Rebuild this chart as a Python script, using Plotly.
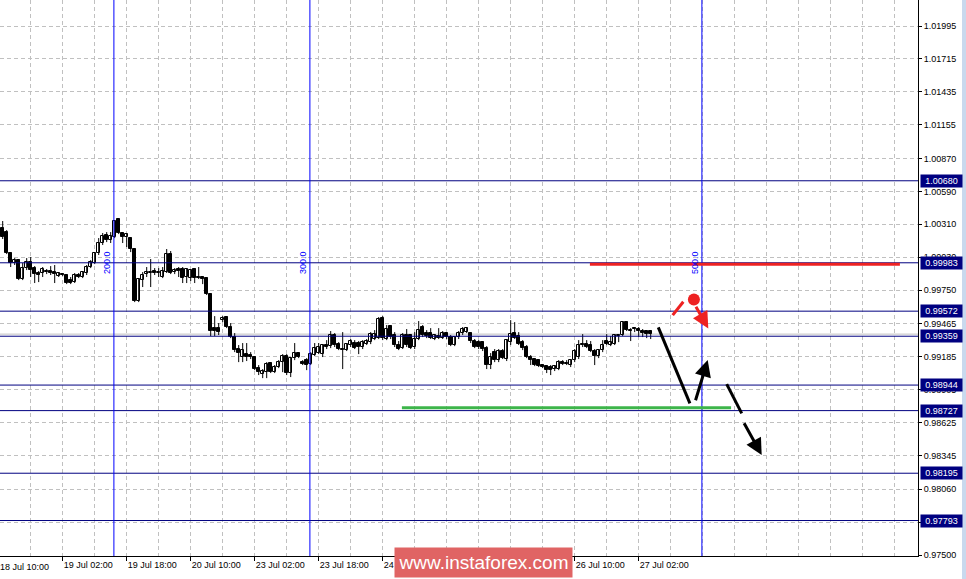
import plotly.graph_objects as go

# ---------------- candle data (H1 bars, index 1..163) ----------------
bar_open = [
    1.00278, 1.00244, 1.00066, 0.99981, 1.00006, 0.99845, 0.99938, 0.99989, 0.99938, 0.99896,
    0.99896, 0.99913, 0.99913, 0.99904, 0.99870, 0.99887, 0.99879, 0.99836, 0.99819, 0.99879,
    0.99862, 0.99896, 0.99947, 0.99981, 1.00066, 1.00151, 1.00219, 1.00176, 1.00202, 1.00355,
    1.00236, 1.00202, 1.00193, 1.00100, 0.99658, 0.99836, 0.99887, 0.99896, 0.99913, 0.99896,
    0.99862, 0.99904, 1.00057, 0.99904, 0.99930, 0.99930, 0.99862, 0.99853, 0.99930, 0.99862,
    0.99862, 0.99853, 0.99717, 0.99428, 0.99428, 0.99496, 0.99522, 0.99437, 0.99352, 0.99250,
    0.99182, 0.99207, 0.99199, 0.99182, 0.99088, 0.99037, 0.99054, 0.99131, 0.99054, 0.99097,
    0.99139, 0.99190, 0.99046, 0.99173, 0.99216, 0.99139, 0.99156, 0.99122, 0.99199, 0.99216,
    0.99207, 0.99284, 0.99275, 0.99369, 0.99292, 0.99250, 0.99241, 0.99284, 0.99301, 0.99301,
    0.99267, 0.99292, 0.99309, 0.99335, 0.99343, 0.99513, 0.99335, 0.99445, 0.99369, 0.99284,
    0.99258, 0.99369, 0.99369, 0.99267, 0.99335, 0.99437, 0.99386, 0.99386, 0.99335, 0.99360,
    0.99343, 0.99386, 0.99352, 0.99284, 0.99352, 0.99386, 0.99394, 0.99386, 0.99318, 0.99309,
    0.99309, 0.99258, 0.99114, 0.99224, 0.99156, 0.99233, 0.99165, 0.99309, 0.99386, 0.99360,
    0.99309, 0.99267, 0.99182, 0.99165, 0.99156, 0.99114, 0.99105, 0.99097, 0.99080, 0.99080,
    0.99139, 0.99131, 0.99114, 0.99156, 0.99182, 0.99292, 0.99292, 0.99284, 0.99233, 0.99190,
    0.99241, 0.99318, 0.99284, 0.99292, 0.99360, 0.99369, 0.99479, 0.99411, 0.99428, 0.99420,
    0.99403, 0.99403, 0.99403,
]
bar_high = [
    1.00338, 1.00261, 1.00074, 1.00023, 1.00015, 0.99981, 1.00023, 1.00032, 0.99955, 0.99913,
    0.99947, 0.99930, 0.99955, 0.99964, 0.99904, 0.99896, 0.99887, 0.99862, 0.99896, 0.99896,
    0.99913, 0.99964, 1.00006, 1.00074, 1.00193, 1.00236, 1.00244, 1.00244, 1.00346, 1.00363,
    1.00244, 1.00236, 1.00202, 1.00108, 0.99853, 0.99904, 0.99947, 1.00015, 0.99938, 0.99938,
    0.99947, 1.00100, 1.00083, 0.99938, 0.99947, 0.99947, 0.99938, 0.99930, 0.99938, 0.99947,
    0.99870, 0.99862, 0.99726, 0.99530, 0.99471, 0.99530, 0.99530, 0.99471, 0.99386, 0.99284,
    0.99301, 0.99301, 0.99224, 0.99190, 0.99114, 0.99080, 0.99139, 0.99139, 0.99114, 0.99156,
    0.99207, 0.99207, 0.99182, 0.99301, 0.99224, 0.99156, 0.99173, 0.99224, 0.99301, 0.99301,
    0.99292, 0.99326, 0.99403, 0.99386, 0.99309, 0.99394, 0.99301, 0.99335, 0.99326, 0.99318,
    0.99326, 0.99335, 0.99394, 0.99411, 0.99522, 0.99530, 0.99454, 0.99454, 0.99394, 0.99318,
    0.99386, 0.99420, 0.99377, 0.99394, 0.99488, 0.99454, 0.99411, 0.99428, 0.99377, 0.99428,
    0.99403, 0.99394, 0.99369, 0.99360, 0.99403, 0.99437, 0.99437, 0.99394, 0.99335, 0.99326,
    0.99318, 0.99275, 0.99216, 0.99250, 0.99250, 0.99250, 0.99335, 0.99496, 0.99479, 0.99394,
    0.99326, 0.99284, 0.99199, 0.99173, 0.99165, 0.99122, 0.99114, 0.99114, 0.99114, 0.99156,
    0.99156, 0.99156, 0.99165, 0.99250, 0.99326, 0.99377, 0.99326, 0.99318, 0.99250, 0.99250,
    0.99326, 0.99377, 0.99360, 0.99369, 0.99377, 0.99488, 0.99488, 0.99428, 0.99437, 0.99437,
    0.99420, 0.99411, 0.99411,
]
bar_low = [
    1.00185, 1.00057, 0.99947, 0.99964, 0.99836, 0.99836, 0.99921, 0.99862, 0.99811, 0.99819,
    0.99862, 0.99887, 0.99879, 0.99811, 0.99862, 0.99870, 0.99802, 0.99802, 0.99811, 0.99853,
    0.99853, 0.99879, 0.99938, 0.99972, 1.00049, 1.00134, 1.00159, 1.00151, 1.00193, 1.00227,
    1.00151, 1.00117, 1.00074, 0.99649, 0.99649, 0.99777, 0.99862, 0.99777, 0.99879, 0.99862,
    0.99853, 0.99896, 0.99887, 0.99887, 0.99862, 0.99811, 0.99811, 0.99828, 0.99811, 0.99845,
    0.99802, 0.99709, 0.99360, 0.99360, 0.99369, 0.99479, 0.99428, 0.99343, 0.99224, 0.99139,
    0.99139, 0.99148, 0.99165, 0.99071, 0.99029, 0.99003, 0.99003, 0.99046, 0.99046, 0.99088,
    0.99054, 0.99029, 0.99012, 0.99156, 0.99173, 0.99114, 0.99071, 0.99114, 0.99190, 0.99207,
    0.99182, 0.99250, 0.99258, 0.99267, 0.99241, 0.99080, 0.99233, 0.99267, 0.99250, 0.99207,
    0.99250, 0.99284, 0.99292, 0.99326, 0.99335, 0.99326, 0.99326, 0.99335, 0.99267, 0.99241,
    0.99250, 0.99267, 0.99250, 0.99250, 0.99326, 0.99352, 0.99343, 0.99335, 0.99326, 0.99335,
    0.99335, 0.99335, 0.99275, 0.99275, 0.99335, 0.99369, 0.99386, 0.99301, 0.99258, 0.99250,
    0.99233, 0.99080, 0.99080, 0.99139, 0.99139, 0.99165, 0.99148, 0.99284, 0.99335, 0.99284,
    0.99241, 0.99173, 0.99114, 0.99105, 0.99097, 0.99088, 0.99046, 0.99029, 0.99063, 0.99071,
    0.99114, 0.99114, 0.99097, 0.99139, 0.99165, 0.99267, 0.99258, 0.99224, 0.99114, 0.99173,
    0.99224, 0.99284, 0.99275, 0.99284, 0.99309, 0.99360, 0.99403, 0.99318, 0.99394, 0.99352,
    0.99352, 0.99343, 0.99335,
]
bar_close = [
    1.00202, 1.00066, 0.99981, 1.00006, 0.99845, 0.99938, 0.99989, 0.99921, 0.99887, 0.99879,
    0.99930, 0.99904, 0.99896, 0.99887, 0.99896, 0.99879, 0.99811, 0.99811, 0.99879, 0.99862,
    0.99904, 0.99947, 0.99989, 1.00066, 1.00151, 1.00210, 1.00176, 1.00210, 1.00338, 1.00236,
    1.00202, 1.00227, 1.00100, 0.99658, 0.99845, 0.99879, 0.99904, 0.99904, 0.99896, 0.99904,
    0.99913, 1.00057, 0.99896, 0.99921, 0.99913, 0.99853, 0.99930, 0.99921, 0.99853, 0.99853,
    0.99845, 0.99717, 0.99403, 0.99403, 0.99394, 0.99513, 0.99437, 0.99352, 0.99241, 0.99216,
    0.99241, 0.99182, 0.99182, 0.99080, 0.99054, 0.99063, 0.99122, 0.99054, 0.99097, 0.99139,
    0.99190, 0.99046, 0.99173, 0.99216, 0.99182, 0.99122, 0.99114, 0.99207, 0.99258, 0.99267,
    0.99284, 0.99267, 0.99369, 0.99284, 0.99250, 0.99241, 0.99292, 0.99318, 0.99258, 0.99267,
    0.99309, 0.99318, 0.99377, 0.99377, 0.99505, 0.99343, 0.99420, 0.99352, 0.99284, 0.99250,
    0.99369, 0.99284, 0.99258, 0.99335, 0.99411, 0.99369, 0.99360, 0.99343, 0.99369, 0.99343,
    0.99386, 0.99352, 0.99284, 0.99352, 0.99386, 0.99420, 0.99428, 0.99318, 0.99267, 0.99267,
    0.99250, 0.99114, 0.99182, 0.99156, 0.99233, 0.99173, 0.99326, 0.99377, 0.99343, 0.99292,
    0.99258, 0.99182, 0.99156, 0.99114, 0.99105, 0.99097, 0.99071, 0.99071, 0.99105, 0.99139,
    0.99122, 0.99122, 0.99156, 0.99233, 0.99284, 0.99284, 0.99267, 0.99233, 0.99190, 0.99241,
    0.99284, 0.99290, 0.99309, 0.99369, 0.99369, 0.99479, 0.99411, 0.99405, 0.99420, 0.99403,
    0.99386, 0.99377, 0.99377,
]
bar_index = list(range(1, len(bar_open) + 1))

# ---------------- axis labels ----------------
# labels at bars 112 and 128 (25 Jul) sit entirely under the watermark in the reference
time_label_bars = [0, 16, 32, 48, 64, 80, 96, 112, 128, 144, 160]
time_labels = ["18 Jul 10:00", "19 Jul 02:00", "19 Jul 18:00", "20 Jul 10:00",
               "23 Jul 02:00", "23 Jul 18:00", "24 Jul 10:00", "",
               "", "26 Jul 10:00", "27 Jul 02:00"]
time_grid_bars = [8, 24, 40, 56, 72, 88, 104, 120, 136, 152, 168, 176, 184, 192, 200, 208, 216, 224]
price_ticks = [1.01995, 1.01715, 1.01435, 1.01155, 1.00870, 1.00590, 1.00310, 1.00030,
               0.99750, 0.99465, 0.99185, 0.98905, 0.98625, 0.98345, 0.98060, 0.97780, 0.97500]

# ---------------- analysis drawings ----------------
level_prices = [1.00680, 0.99983, 0.99572, 0.99359, 0.98944, 0.98727, 0.98195, 0.97793]
vline_bars = [28.8, 77.8, 175.8]
vline_texts = ["200.0", "300.0", "500.0"]
resistance_price = 0.99970
resistance_bars = [147.8, 225.3]
support_price = 0.98751
support_bars = [100.8, 183.1]
leg_bars, leg_prices = [164.9, 172.8], [0.99434, 0.98788]
rebound_bars, rebound_prices = [174.1, 177.25], [0.98802, 0.99156]
dash1_bars, dash1_prices = [182.0, 185.75], [0.98952, 0.98703]
dash2_bars, dash2_prices = [186.15, 190.75], [0.98632, 0.98349]
red_tick_bars, red_tick_prices = [168.5, 171.15], [0.99538, 0.99652]
red_dot_bar, red_dot_price = 173.8, 0.99672
red_arrow_bars, red_arrow_prices = [174.1, 177.4], [0.99623, 0.99425]

NAVY = "#000080"
GRID = "#C0C0C0"
FONT = "Liberation Sans, Arial, sans-serif"

fig = go.Figure()

# wicks
wick_x, wick_y = [], []
for i, h, l in zip(bar_index, bar_high, bar_low):
    wick_x += [i, i, None]
    wick_y += [l, h, None]
fig.add_trace(go.Scatter(x=wick_x, y=wick_y, mode="lines", line=dict(color="black", width=1),
                         showlegend=False, hoverinfo="skip"))

# bodies
min_body = 0.00003
for bullish, fill in [(True, "white"), (False, "black")]:
    xs, bases, heights = [], [], []
    for i, o, c in zip(bar_index, bar_open, bar_close):
        if (c >= o) == bullish:
            xs.append(i)
            bases.append(min(o, c))
            heights.append(max(abs(c - o), min_body))
    fig.add_trace(go.Bar(x=xs, y=heights, base=bases, width=0.62,
                         marker=dict(color=fill, line=dict(color="black", width=1)),
                         showlegend=False, hoverinfo="skip"))

shapes = []
for p in level_prices:
    shapes.append(dict(type="line", xref="paper", x0=0, x1=1, yref="y", y0=p, y1=p,
                       line=dict(color=NAVY, width=1)))
shapes.append(dict(type="line", xref="paper", x0=0, x1=1, yref="y",
                   y0=bar_close[-1], y1=bar_close[-1], line=dict(color=GRID, width=1), layer="below"))
for b in vline_bars:
    shapes.append(dict(type="line", xref="x", x0=b, x1=b, yref="paper", y0=0, y1=1,
                       line=dict(color="#0000FF", width=1)))
shapes.append(dict(type="line", xref="x", x0=resistance_bars[0], x1=resistance_bars[1], yref="y",
                   y0=resistance_price, y1=resistance_price, line=dict(color="#EE2222", width=3)))
shapes.append(dict(type="line", xref="x", x0=support_bars[0], x1=support_bars[1], yref="y",
                   y0=support_price, y1=support_price, line=dict(color="#3DB54A", width=3)))
shapes.append(dict(type="line", xref="x", x0=leg_bars[0], x1=leg_bars[1], yref="y",
                   y0=leg_prices[0], y1=leg_prices[1], line=dict(color="black", width=3)))
shapes.append(dict(type="line", xref="x", x0=dash1_bars[0], x1=dash1_bars[1], yref="y",
                   y0=dash1_prices[0], y1=dash1_prices[1], line=dict(color="black", width=3)))
shapes.append(dict(type="line", xref="x", x0=red_tick_bars[0], x1=red_tick_bars[1], yref="y",
                   y0=red_tick_prices[0], y1=red_tick_prices[1], line=dict(color="#EE2222", width=3)))
shapes.append(dict(type="rect", xref="paper", x0=962 / 918, x1=967 / 918, yref="paper",
                   y0=-23 / 556, y1=1.0, fillcolor="#C9D9EE", line=dict(width=0)))

fig.add_trace(go.Scatter(x=[red_dot_bar], y=[red_dot_price], mode="markers",
                         marker=dict(color="#EE2222", size=12), showlegend=False, hoverinfo="skip"))

annotations = []
for bars, prices, col in [(rebound_bars, rebound_prices, "black"),
                          (dash2_bars, dash2_prices, "black"),
                          (red_arrow_bars, red_arrow_prices, "#EE2222")]:
    annotations.append(dict(x=bars[1], y=prices[1], ax=bars[0], ay=prices[0], xref="x", yref="y",
                            axref="x", ayref="y", text="", showarrow=True, arrowhead=2,
                            arrowsize=1.1, arrowwidth=3, arrowcolor=col, standoff=0))
for p in level_prices:
    annotations.append(dict(xref="paper", x=1, xanchor="left", xshift=2, yref="y", y=p,
                            yanchor="middle", text=f"{p:.5f}", showarrow=False, bgcolor=NAVY,
                            font=dict(color="white", size=9, family=FONT),
                            width=41, height=12, borderpad=0))
for b, t in zip(vline_bars, vline_texts):
    annotations.append(dict(xref="x", x=b, xshift=-7, xanchor="center", yref="paper",
                            y=(556 - 262) / 556, yanchor="middle",
                            text=t, textangle=-90, showarrow=False,
                            font=dict(color="#0000FF", size=9, family=FONT)))
annotations.append(dict(xref="paper", x=0, xanchor="left", xshift=-2, yref="paper", y=0,
                        yanchor="top", yshift=-4, text=time_labels[0], showarrow=False,
                        font=dict(color="black", size=9, family=FONT)))
annotations.append(dict(xref="paper", x=483.5 / 918, xanchor="center", yref="paper",
                        y=(556 - 562.5) / 556, yanchor="middle",
                        text="www.instaforex.com", showarrow=False, bgcolor="#E06464",
                        font=dict(color="white", size=19, family=FONT),
                        width=177, height=29, borderpad=0))

fig.update_layout(
    width=966, height=579,
    margin=dict(l=0, r=48, t=0, b=23, autoexpand=False),
    paper_bgcolor="white", plot_bgcolor="white",
    barmode="overlay", bargap=0,
    shapes=shapes, annotations=annotations, showlegend=False,
    font=dict(family=FONT, size=9, color="black"),
    xaxis=dict(
        range=[0.325, 229.825],
        tickvals=time_label_bars, ticktext=time_labels,
        ticks="outside", ticklen=4, tickcolor="black", ticklabelposition="outside right",
        showgrid=True, gridcolor=GRID, griddash="4px,3px", gridwidth=1,
        minor=dict(tickvals=time_grid_bars, showgrid=True, gridcolor=GRID,
                   griddash="4px,3px", ticks=""),
        showline=True, linecolor="black", linewidth=1, zeroline=False,
        tickfont=dict(size=9, color="black", family=FONT),
    ),
    yaxis=dict(
        range=[0.974916, 1.02216], side="right",
        tickvals=price_ticks, ticktext=[f"{v:.5f}" for v in price_ticks],
        ticks="outside", ticklen=3, tickcolor="black",
        showgrid=True, gridcolor=GRID, griddash="4px,3px", gridwidth=1,
        showline=True, linecolor="black", linewidth=1, zeroline=False,
        tickfont=dict(size=9, color="black", family=FONT),
    ),
)

fig.write_html("out.html", config={"displayModeBar": False},
               post_script="document.body.style.margin='0';")
